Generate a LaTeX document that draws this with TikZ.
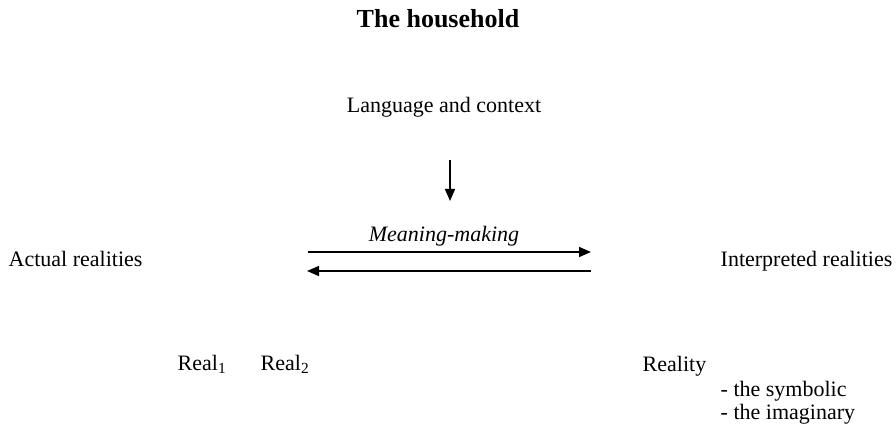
\documentclass[tikz,border=0pt]{standalone}
\usepackage{fontspec}
\setmainfont{Liberation Serif}
\usetikzlibrary{arrows.meta}

\begin{document}
\begin{tikzpicture}[x=1pt, y=-1pt, line width=1.4pt,
      >={Triangle[length=12pt,width=10pt]},
      every node/.append style={inner sep=0pt,font=\fontsize{22}{26}\selectfont}]
    \tikzstyle{term} = [anchor=base west,color=black]
    \tikzstyle{heading} = [anchor=base,font=\bfseries\fontsize{26}{30}\selectfont]
    \useasboundingbox (0,0) rectangle (896,427);
    \node [heading] (household) at (438,28) {The household};
    \node [term,anchor=base] (context) at (444,113) {Language and context};
    \node [term,anchor=base,font=\itshape\fontsize{22}{26}\selectfont] (meaning) at (444,242) {Meaning-making};
    \node [term] (actual) at (8,267) {Actual realities};
    \node [term] (interpreted) at (720,267) {Interpreted realities};
    \node [term] (realone) at (177,370) {Real\textsubscript{1}};
    \node [term] (realtwo) at (260,370) {Real\textsubscript{2}};
    \node [term] (reality) at (642,371) {Reality};
    \node [term] (symbolic) at (720,396) {- the symbolic};
    \node [term] (imaginary) at (720,419) {- the imaginary};
    % arrow ends
    \coordinate (downtop) at (450,160);
    \coordinate (downend) at (450,201);
    \coordinate (forwardstart) at (308,252);
    \coordinate (forwardend) at (591,252);
    \coordinate (backstart) at (591,271);
    \coordinate (backend) at (307,271);
    \draw [->] (downtop) -- (downend);
    \draw [->] (forwardstart) -- (forwardend);
    \draw [->] (backstart) -- (backend);
\end{tikzpicture}
\end{document}
